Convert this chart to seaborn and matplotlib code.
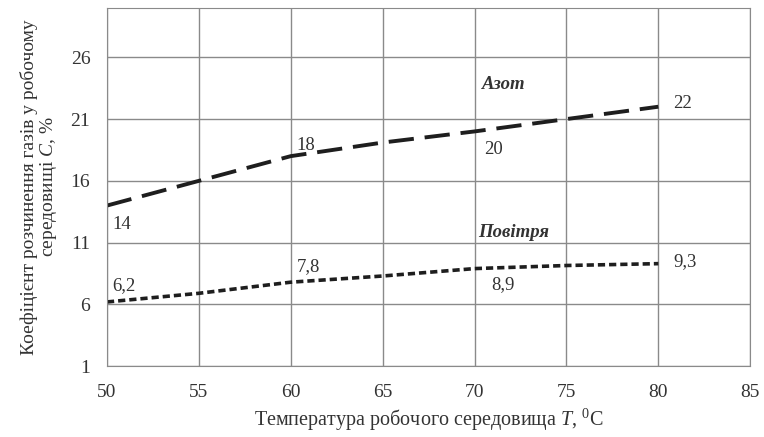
import numpy as np
import pandas as pd
import seaborn as sns
import matplotlib.pyplot as plt

# values
temps = [50, 55, 60, 65, 70, 75, 80]
nitrogen = [14, 16, 18, 19.1, 20, 21, 22]
air = [6.2, 6.9, 7.8, 8.3, 8.9, 9.15, 9.3]

nitrogen_labels = [(50, 14, "14"), (60, 18, "18"), (70, 20, "20"), (80, 22, "22")]
air_labels = [(50, 6.2, "6,2"), (60, 7.8, "7,8"), (70, 8.9, "8,9"), (80, 9.3, "9,3")]

sns.set_style("white")
plt.rcParams['font.family'] = ['Liberation Serif', 'DejaVu Serif']
plt.rcParams['mathtext.fontset'] = 'custom'
plt.rcParams['mathtext.it'] = 'Liberation Serif:italic'
plt.rcParams['mathtext.rm'] = 'Liberation Serif'

df = pd.DataFrame({'T': temps, 'Азот': nitrogen, 'Повітря': air})

fig = plt.figure(figsize=(7.64, 4.37), dpi=100)
ax = fig.add_axes([0.140, 0.162, 0.842, 0.820])

sns.lineplot(data=df, x='T', y='Азот', ax=ax, color='#1e1e1e', lw=2.8,
             linestyle=(0, (6.5, 2.8)))
sns.lineplot(data=df, x='T', y='Повітря', ax=ax, color='#1e1e1e', lw=2.6,
             linestyle=(0, (2.0, 1.1)))

ax.set_xlim(50, 85)
ax.set_ylim(1, 30)
ax.set_xticks(np.arange(50, 86, 5))
ax.set_yticks(np.arange(1, 27, 5))
ax.grid(True, color='#8a8a8a', lw=1)
for s in ax.spines.values():
    s.set_color('#8a8a8a')
ax.tick_params(axis='x', labelsize=14, colors='#333333', length=0, pad=13)
ax.tick_params(axis='y', labelsize=14, colors='#333333', length=0, pad=12)

# value labels
offs_n = {"14": (0.3, -1.5), "18": (0.3, 0.9), "20": (0.5, -1.5), "22": (0.8, 0.3)}
for x, y, t in nitrogen_labels:
    dx, dy = offs_n[t]
    ax.text(x + dx, y + dy, t, fontsize=13.5, color='#333333', va='center')
offs_a = {"6,2": (0.3, 1.3), "7,8": (0.3, 1.3), "8,9": (0.9, -1.3), "9,3": (0.8, 0.2)}
for x, y, t in air_labels:
    dx, dy = offs_a[t]
    ax.text(x + dx, y + dy, t, fontsize=13.5, color='#333333', va='center')

ax.text(70.4, 23.8, 'Азот', fontsize=13.5, fontweight='bold', style='italic', color='#333333', va='center')
ax.text(70.2, 11.8, 'Повітря', fontsize=13.5, fontweight='bold', style='italic', color='#333333', va='center')

ax.set_xlabel('Температура робочого середовища $\\mathit{T}$, $^0$C', fontsize=14.5, color='#333333', labelpad=4)
ax.set_ylabel('Коефіцієнт розчинення газів у робочому\nсередовищі $\\mathit{C}$, %', fontsize=14,
              color='#333333', labelpad=8, linespacing=1.0)

fig.savefig('out.png', dpi=100)
